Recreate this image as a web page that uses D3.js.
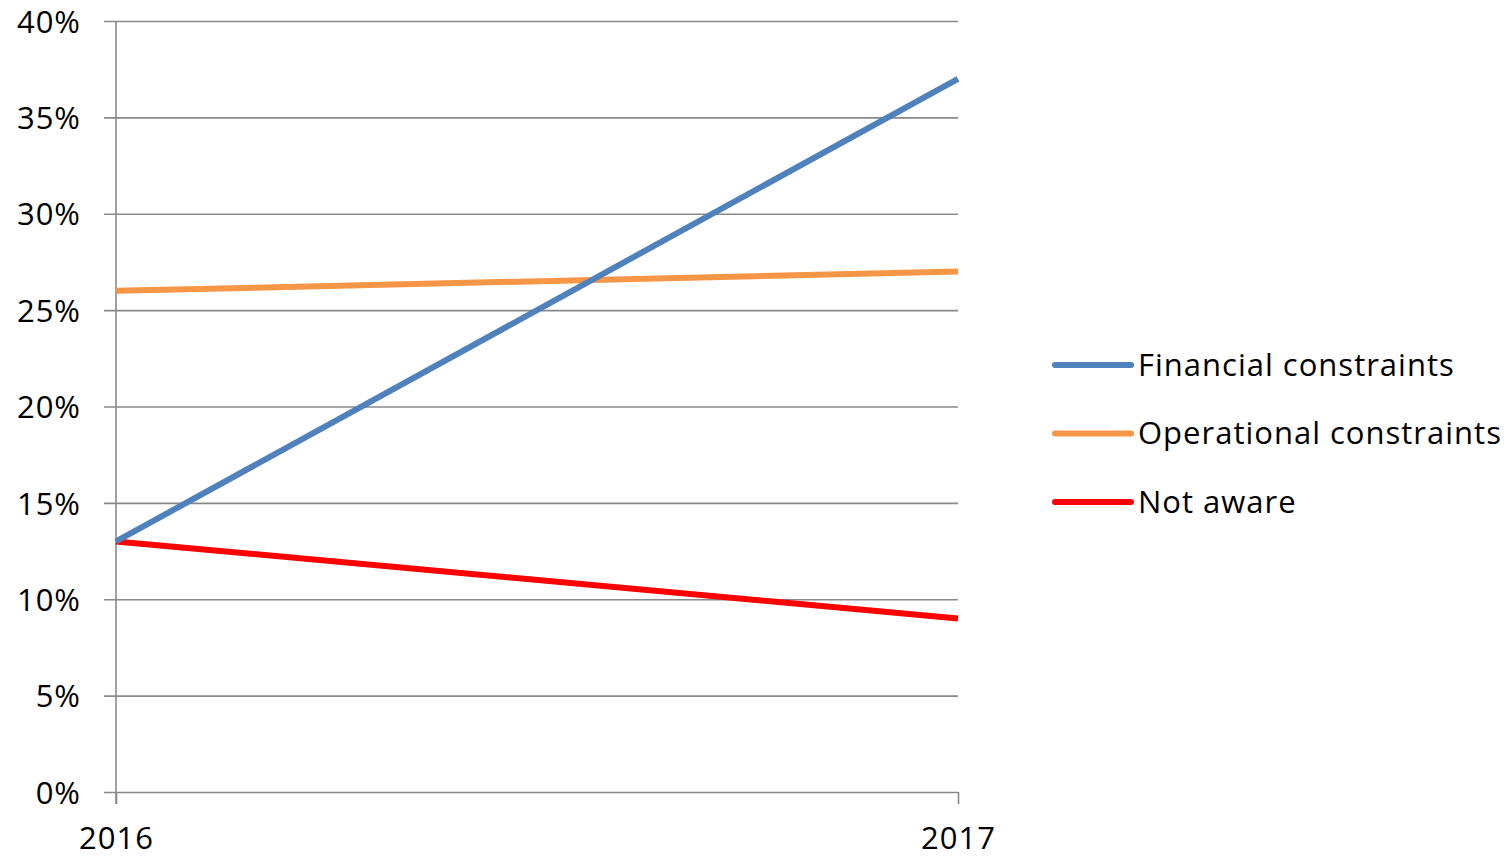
<!DOCTYPE html>
<html>
<head>
<meta charset="utf-8">
<script src="https://cdn.jsdelivr.net/npm/d3@7"></script>
<style>
  body { margin: 0; background: #fff; }
  text { font-family: "Open Sans", Lato, sans-serif; fill: #000; letter-spacing: 1px; }
</style>
</head>
<body>
<div id="chart"></div>
<script>
// data
const years = ["2016", "2017"];
const seriesNames = ["Financial constraints", "Operational constraints", "Not aware"];
const financial = [0.13, 0.37];
const operational = [0.26, 0.27];
const notAware = [0.13, 0.09];
const yTicks = [0, 0.05, 0.10, 0.15, 0.20, 0.25, 0.30, 0.35, 0.40];
const colors = ["#4F81BD", "#F79646", "#FF0000"];

const width = 1510;
const height = 859;
const margin = { top: 21, right: 552, bottom: 67, left: 116 };
const fontSize = "31px";

const svg = d3.select("#chart").append("svg")
  .attr("width", width)
  .attr("height", height);

const x = d3.scalePoint()
  .domain(years)
  .range([margin.left, width - margin.right]);

const y = d3.scaleLinear()
  .domain([0, 0.4])
  .range([height - margin.bottom, margin.top]);

// gridlines + y labels
const yAxis = d3.axisLeft(y)
  .tickValues(yTicks)
  .tickFormat(d3.format(".0%"))
  .tickSize(-(width - margin.right - margin.left))
  .tickSizeOuter(0);

const gy = svg.append("g")
  .attr("transform", `translate(${margin.left},0)`)
  .call(yAxis);
gy.select(".domain").remove();
gy.selectAll(".tick line")
  .attr("x1", -12)
  .attr("stroke", "#898989")
  .attr("stroke-width", 1.6);
gy.selectAll(".tick text")
  .attr("x", -35)
  .attr("dy", "0.36em")
  .style("font-size", fontSize);

// y axis line
svg.append("line")
  .attr("x1", margin.left).attr("x2", margin.left)
  .attr("y1", y(0.4)).attr("y2", y(0) + 12)
  .attr("stroke", "#898989")
  .attr("stroke-width", 1.6);

// x axis
const xAxis = d3.axisBottom(x).tickSize(12).tickSizeOuter(0);
const gx = svg.append("g")
  .attr("transform", `translate(0,${y(0)})`)
  .call(xAxis);
gx.select(".domain").remove();
gx.selectAll(".tick line").attr("stroke", "#898989").attr("stroke-width", 1.6);
gx.selectAll(".tick text")
  .attr("y", 35)
  .attr("dy", "0.71em")
  .style("font-size", fontSize);

// lines
const series = [financial, operational, notAware];
const line = d3.line()
  .x((d, i) => x(years[i]))
  .y(d => y(d));

// draw red first so blue sits on top at the shared 2016 point
[2, 1, 0].forEach(function (k) {
  svg.append("path")
    .datum(series[k])
    .attr("fill", "none")
    .attr("stroke", colors[k])
    .attr("stroke-width", 6)
    .attr("d", line);
});

// legend
const legend = svg.selectAll(".legend")
  .data(seriesNames)
  .enter()
  .append("g")
  .attr("class", "legend")
  .attr("transform", (d, i) => `translate(1055,${365 + i * 68.5})`);

legend.append("line")
  .attr("x1", 0).attr("x2", 76)
  .attr("stroke", (d, i) => colors[i])
  .attr("stroke-width", 6)
  .attr("stroke-linecap", "round");

legend.append("text")
  .attr("x", 83)
  .attr("dy", "0.35em")
  .style("font-size", fontSize)
  .text(d => d);
</script>
</body>
</html>
